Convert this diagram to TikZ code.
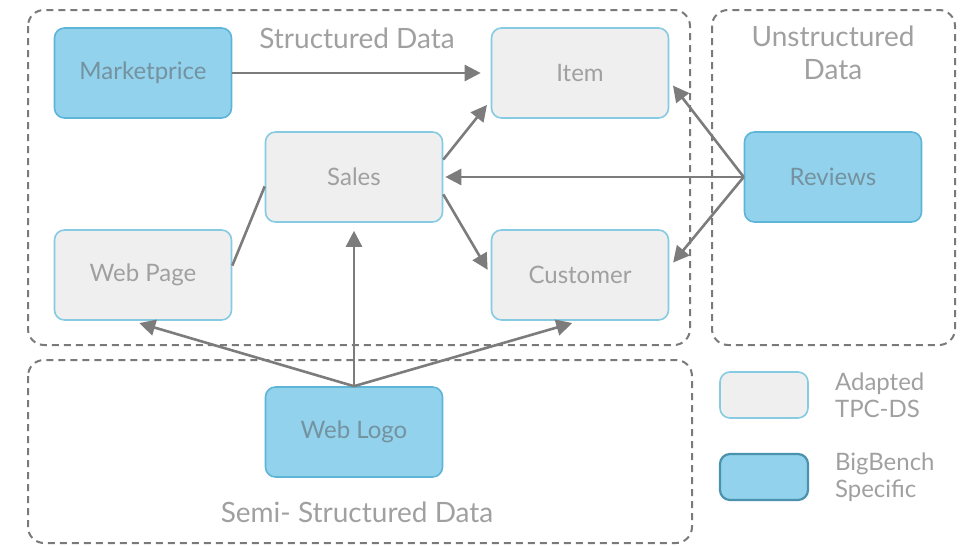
\documentclass[tikz,border=0pt]{standalone}
\usepackage{fontspec}
\setmainfont{Lato}
\usetikzlibrary{arrows.meta}

\definecolor{tpcfill}{HTML}{EFEFEF}
\definecolor{tpcline}{HTML}{86CBE2}
\definecolor{bbfill}{HTML}{92D2EC}
\definecolor{bbline}{HTML}{5DB6D8}
\definecolor{zonegray}{HTML}{7A7A7A}
\definecolor{linkgray}{HTML}{7C7C7C}
\definecolor{textgray}{HTML}{A0A0A0}
\definecolor{bbtext}{HTML}{74929F}

\begin{document}
\begin{tikzpicture}[x=0.5pt,y=-0.5pt,
	tpcbox/.style={draw=tpcline, fill=tpcfill, line width=0.8pt, rounded corners=5pt,
		minimum width=88.5pt, minimum height=45pt, text=textgray, font=\fontsize{12}{14}\selectfont},
	bbbox/.style={tpcbox, draw=bbline, fill=bbfill, text=bbtext},
	zone/.style={draw=zonegray, line width=1pt, dash pattern=on 3.5pt off 2.5pt, rounded corners=8pt},
	link/.style={draw=linkgray, line width=1.3pt, -{Triangle[length=8pt,width=8pt]}},
	zonelabel/.style={text=textgray, font=\fontsize{14}{16.5}\selectfont, align=center},
	leglabel/.style={text=textgray, font=\fontsize{12}{13.5}\selectfont, align=left, anchor=west}]
	\useasboundingbox (0,0) rectangle (966,546);
	
	% Dashed data zones
	\draw[zone] (28,10) rectangle (690,345);
	\draw[zone] (712,10) rectangle (955,345);
	\draw[zone] (28,360) rectangle (692,543);
	\node[zonelabel] (structlbl) at (357,38) {Structured Data};
	\node[zonelabel] (unstructlbl) at (833,53) {Unstructured\\Data};
	\node[zonelabel] (semilbl) at (357,512) {Semi- Structured Data};
	
	% Tables
	\node[bbbox] (marketprice) at (143,73) {Marketprice};
	\node[tpcbox] (item) at (580,73) {Item};
	\node[tpcbox] (sales) at (354,177) {Sales};
	\node[tpcbox] (webpage) at (143,275) {Web Page};
	\node[tpcbox] (customer) at (580,275) {Customer};
	\node[bbbox] (reviews) at (833,177) {Reviews};
	\node[bbbox] (weblogo) at (354,432) {Web Logo};
	
	% Links
	\draw[link, shorten >=5pt] (marketprice) -- (item);
	\draw[link, shorten >=3pt] (sales.11) -- (item.197);
	\draw[link, shorten >=3pt] (sales.-11) -- (customer.west);
	\draw[link, shorten >=1pt] (reviews.west) -- (sales.east);
	\draw[link, shorten >=3pt] (reviews.west) -- (item.-5);
	\draw[link, shorten >=3pt] (reviews.west) -- (customer.5);
	\draw[draw=linkgray, line width=1.3pt] (webpage.6) -- (sales.186);
	\draw[link, shorten >=4pt] (weblogo.north) -- (sales.south);
	\draw[link, shorten >=4pt] (weblogo.north) -- (webpage.-104);
	\draw[link, shorten >=4pt] (weblogo.north) -- (customer.south);
	
	% Legend
	\node[tpcbox, minimum width=44pt, minimum height=23pt] (legtpc) at (764,395) {};
	\node[bbbox, draw=bbline!80!black, line width=1.1pt, minimum width=44pt, minimum height=23pt] (legbb) at (764,477) {};
	\node[leglabel] (legtpclbl) at (828,395) {Adapted\\TPC-DS};
	\node[leglabel] (legbblbl) at (828,477) {BigBench\\Specific};
	
\end{tikzpicture}
\end{document}
